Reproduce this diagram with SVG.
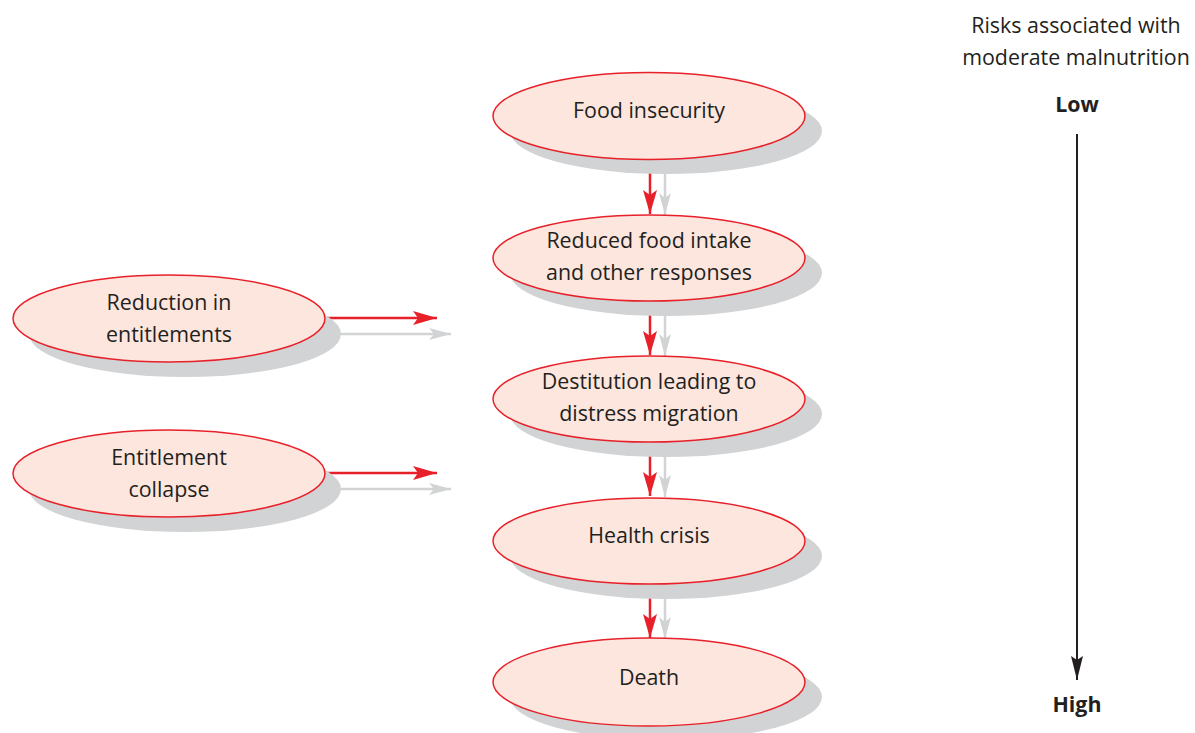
<svg xmlns="http://www.w3.org/2000/svg" width="1195" height="733" viewBox="0 0 1195 733">
<defs>
<style>
.sh{fill:#d1d3d4}
.el{fill:#fce6de;stroke:#e8202a;stroke-width:1.5}
.t{font-family:"Open Sans","Liberation Sans",sans-serif;font-size:21.4px;fill:#231f20;text-anchor:middle}
.b{font-weight:bold}
.r{stroke:#e8202a;stroke-width:2.5;fill:none}
.g{stroke:#d1d3d4;stroke-width:2.5;fill:none}
.k{stroke:#231f20;stroke-width:2;fill:none}
</style>
<marker id="ar" markerUnits="userSpaceOnUse" markerWidth="26" markerHeight="14" refX="24" refY="7" orient="auto" viewBox="0 0 26 14"><path d="M0,0 L24,7 L0,14 L5,7 Z" fill="#e8202a"/></marker>
<marker id="ag" markerUnits="userSpaceOnUse" markerWidth="24" markerHeight="12" refX="22" refY="6" orient="auto" viewBox="0 0 24 12"><path d="M0,0 L22,6 L0,12 L5,6 Z" fill="#d1d3d4"/></marker>
<marker id="ak" markerUnits="userSpaceOnUse" markerWidth="26" markerHeight="12" refX="24" refY="6" orient="auto" viewBox="0 0 26 12"><path d="M0,0 L24,6 L0,12 L4,6 Z" fill="#231f20"/></marker>
</defs>
<rect width="1195" height="733" fill="#ffffff"/>

<g id="connectors">
<line class="g" x1="665" y1="174" x2="665" y2="215" marker-end="url(#ag)"/>
<line class="r" x1="650" y1="159" x2="650" y2="214" marker-end="url(#ar)"/>
<line class="g" x1="665" y1="316" x2="665" y2="356" marker-end="url(#ag)"/>
<line class="r" x1="650" y1="301" x2="650" y2="355" marker-end="url(#ar)"/>
<line class="g" x1="665" y1="457" x2="665" y2="497" marker-end="url(#ag)"/>
<line class="r" x1="650" y1="442" x2="650" y2="496" marker-end="url(#ar)"/>
<line class="g" x1="665" y1="599" x2="665" y2="639" marker-end="url(#ag)"/>
<line class="r" x1="650" y1="584" x2="650" y2="638" marker-end="url(#ar)"/>
<line class="g" x1="341" y1="334" x2="451" y2="334" marker-end="url(#ag)"/>
<line class="r" x1="325" y1="318" x2="437" y2="318" marker-end="url(#ar)"/>
<line class="g" x1="341" y1="489" x2="451" y2="489" marker-end="url(#ag)"/>
<line class="r" x1="325" y1="473" x2="437" y2="473" marker-end="url(#ar)"/>
<line class="k" x1="1077" y1="134" x2="1077" y2="680" marker-end="url(#ak)"/>
</g>

<g id="food-insecurity">
<ellipse class="sh" cx="666" cy="131" rx="156" ry="43"/>
<ellipse class="el" cx="649" cy="116" rx="156" ry="43.5"/>
<text class="t" x="649" y="118">Food insecurity</text>
</g>
<g id="reduced-food-intake">
<ellipse class="sh" cx="666" cy="273" rx="156" ry="43"/>
<ellipse class="el" cx="649" cy="258" rx="156" ry="43"/>
<text class="t" x="649" y="248">Reduced food intake</text>
<text class="t" x="649" y="280">and other responses</text>
</g>
<g id="destitution">
<ellipse class="sh" cx="666" cy="414" rx="156" ry="43"/>
<ellipse class="el" cx="649" cy="399" rx="156" ry="43"/>
<text class="t" x="649" y="389">Destitution leading to</text>
<text class="t" x="649" y="421">distress migration</text>
</g>
<g id="health-crisis">
<ellipse class="sh" cx="666" cy="556" rx="156" ry="43"/>
<ellipse class="el" cx="649" cy="541" rx="156" ry="43"/>
<text class="t" x="649" y="543">Health crisis</text>
</g>
<g id="death">
<ellipse class="sh" cx="666" cy="697" rx="156" ry="43"/>
<ellipse class="el" cx="649" cy="682" rx="156" ry="44"/>
<text class="t" x="649" y="685">Death</text>
</g>
<g id="reduction-in-entitlements">
<ellipse class="sh" cx="185" cy="334" rx="156" ry="43"/>
<ellipse class="el" cx="169" cy="318.5" rx="156" ry="43.5"/>
<text class="t" x="169" y="310">Reduction in</text>
<text class="t" x="169" y="342">entitlements</text>
</g>
<g id="entitlement-collapse">
<ellipse class="sh" cx="185" cy="489" rx="156" ry="43"/>
<ellipse class="el" cx="169" cy="473.5" rx="156" ry="43.5"/>
<text class="t" x="169" y="465">Entitlement</text>
<text class="t" x="169" y="497">collapse</text>
</g>
<g id="risk-scale">
<text class="t" x="1076" y="33">Risks associated with</text>
<text class="t" x="1076" y="65">moderate malnutrition</text>
<text class="t b" x="1077" y="112">Low</text>
<text class="t b" x="1077" y="712">High</text>
</g>
</svg>
